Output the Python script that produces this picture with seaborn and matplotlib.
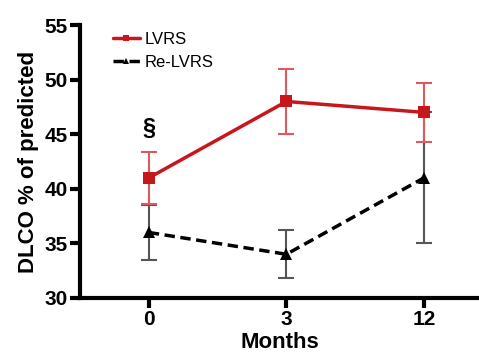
import pandas as pd
import seaborn as sns
import matplotlib.pyplot as plt

months = ['0', '3', '12']
lvrs_mean = [41, 48, 47]
lvrs_sd = [2.4, 3.0, 2.7]
relvrs_mean = [36, 34, 41]
relvrs_sd = [2.5, 2.2, 6.0]

red = '#c8161d'

sns.set_style('ticks')
plt.rcParams['font.family'] = ['Liberation Sans', 'DejaVu Sans']
plt.rcParams['font.weight'] = 'bold'
for k in ['text.color', 'axes.labelcolor', 'xtick.color', 'ytick.color', 'axes.edgecolor']:
    plt.rcParams[k] = 'black'

df = pd.concat([
    pd.DataFrame({'Months': months, 'value': lvrs_mean, 'group': 'LVRS'}),
    pd.DataFrame({'Months': months, 'value': relvrs_mean, 'group': 'Re-LVRS'}),
])

fig, ax = plt.subplots(figsize=(4.79, 3.53), dpi=100)
fig.subplots_adjust(left=0.167, right=1.0, top=0.929, bottom=0.156)

pos = list(range(len(months)))
# error bars drawn first so the lines sit on top
ax.errorbar(pos, relvrs_mean, yerr=relvrs_sd, fmt='none', ecolor='#555555',
            elinewidth=1.5, capsize=6, capthick=1.5, zorder=1)
ax.errorbar(pos, lvrs_mean, yerr=lvrs_sd, fmt='none', ecolor='#dc5a5e',
            elinewidth=1.5, capsize=6, capthick=1.5, zorder=2)

sns.lineplot(data=df[df.group == 'Re-LVRS'], x='Months', y='value', color='black',
             linestyle=(0, (3, 1.6)), linewidth=2.5, marker='^', markersize=8,
             markeredgewidth=0, label='Re-LVRS', ax=ax, zorder=3, sort=False)
sns.lineplot(data=df[df.group == 'LVRS'], x='Months', y='value', color=red,
             linewidth=2.5, marker='s', markersize=8, markeredgewidth=0,
             label='LVRS', ax=ax, zorder=4, sort=False)

ax.text(0, 45.5, '§', ha='center', va='center', fontsize=17, fontweight='bold')

ax.set_ylim(30, 55)
ax.set_yticks([30, 35, 40, 45, 50, 55])
ax.set_xlim(-0.5, 2.4)
ax.set_xticks(pos)
ax.set_xticklabels(months)
ax.tick_params(axis='both', width=3, length=7, labelsize=15, pad=2)
for lab in ax.get_xticklabels() + ax.get_yticklabels():
    lab.set_fontweight('bold')

ax.set_xlabel('Months', fontsize=16, fontweight='bold', labelpad=2)
ax.set_ylabel('DLCO % of predicted', fontsize=16, fontweight='bold', labelpad=4)

for s in ['left', 'bottom']:
    ax.spines[s].set_linewidth(3)
sns.despine(ax=ax)

h, l = ax.get_legend_handles_labels()
order = [l.index('LVRS'), l.index('Re-LVRS')]
leg = ax.legend([h[i] for i in order], [l[i] for i in order], loc='upper left',
                bbox_to_anchor=(0.045, 1.03), frameon=False, handlelength=1.6,
                handletextpad=0.3, labelspacing=0.5, markerscale=0.6,
                prop={'size': 12, 'weight': 'normal'})

plt.savefig('out.png', dpi=100)
plt.close()
